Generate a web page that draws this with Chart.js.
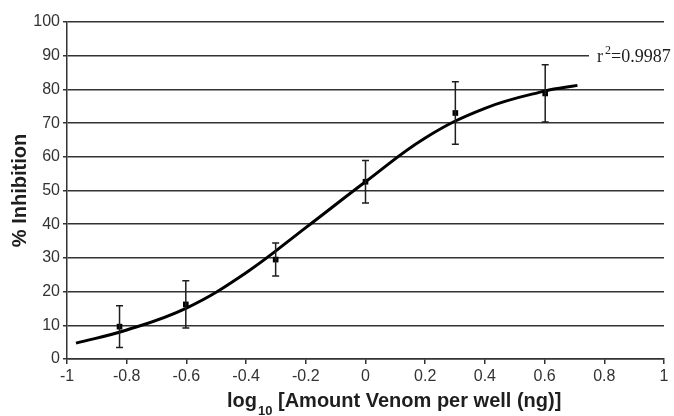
<!DOCTYPE html>
<html>
<head>
<meta charset="utf-8">
<script src="https://cdn.jsdelivr.net/npm/chart.js@4.4.1/dist/chart.umd.min.js"></script>
<style>
html,body{margin:0;padding:0;background:#fff;}
#wrap{width:674px;height:416px;position:relative;}
</style>
</head>
<body>
<div id="wrap"><canvas id="c" width="674" height="416"></canvas></div>
<script>
// Measured data points: log10 amount of venom (ng) vs % inhibition
const doseLog = [-0.824, -0.602, -0.301, 0, 0.301, 0.602];
const inhibition = [9.6, 16.2, 29.5, 52.6, 73.0, 78.8];
const errorSize = [6.2, 7.0, 4.9, 6.3, 9.3, 8.5];
// Fitted curve
const curveX = [-0.97, -0.8, -0.6, -0.4, -0.2, 0, 0.2, 0.4, 0.6, 0.71];
const curveY = [4.7, 8.6, 15.1, 25.6, 39.0, 52.6, 65.6, 74.4, 79.5, 81.2];
const rSquaredText = "0.9987";
const xTitleMain = "log";
const xTitleSub = "10";
const xTitleRest = " [Amount Venom per well (ng)]";
const yTitle = "% Inhibition";

const INK = '#1e1e1e';
const GRID = '#333333';

const errorBarPlugin = {
  id: 'errorBars',
  afterDatasetsDraw(chart) {
    const ctx = chart.ctx, xs = chart.scales.x, ys = chart.scales.y;
    ctx.save();
    ctx.strokeStyle = INK;
    ctx.lineWidth = 1.5;
    for (let i = 0; i < doseLog.length; i++) {
      const px = xs.getPixelForValue(doseLog[i]);
      const top = ys.getPixelForValue(inhibition[i] + errorSize[i]);
      const bot = ys.getPixelForValue(inhibition[i] - errorSize[i]);
      ctx.beginPath();
      ctx.moveTo(px, top); ctx.lineTo(px, bot);
      ctx.moveTo(px - 3.5, top); ctx.lineTo(px + 3.5, top);
      ctx.moveTo(px - 3.5, bot); ctx.lineTo(px + 3.5, bot);
      ctx.stroke();
    }
    ctx.restore();
  }
};

const textPlugin = {
  id: 'texts',
  afterDraw(chart) {
    const ctx = chart.ctx, ys = chart.scales.y, area = chart.chartArea;
    ctx.save();
    // r^2 label interrupting the 90 gridline
    const y90 = ys.getPixelForValue(90);
    ctx.fillStyle = '#fff';
    ctx.fillRect(589, y90 - 3, area.right - 589 + 3, 6);
    ctx.fillStyle = INK;
    ctx.textBaseline = 'alphabetic';
    ctx.textAlign = 'left';
    ctx.font = '18px "Liberation Serif", "Times New Roman", serif';
    let x = 597;
    ctx.fillText('r', x, 62);
    x += ctx.measureText('r').width + 2;
    ctx.font = '12px "Liberation Serif", "Times New Roman", serif';
    ctx.fillText('2', x, 54);
    x += ctx.measureText('2').width;
    ctx.font = '18px "Liberation Serif", "Times New Roman", serif';
    ctx.fillText('=' + rSquaredText, x, 62);

    // x axis title with subscript
    ctx.fillStyle = INK;
    ctx.font = 'bold 20px "Liberation Sans", Arial, sans-serif';
    x = 227;
    ctx.fillText(xTitleMain, x, 407);
    x += ctx.measureText(xTitleMain).width + 1;
    ctx.font = 'bold 13px "Liberation Sans", Arial, sans-serif';
    ctx.fillText(xTitleSub, x, 415);
    x += ctx.measureText(xTitleSub).width;
    ctx.font = 'bold 20px "Liberation Sans", Arial, sans-serif';
    ctx.fillText(xTitleRest, x, 407);

    // y axis title
    ctx.translate(20, (area.top + area.bottom) / 2);
    ctx.rotate(-Math.PI / 2);
    ctx.textAlign = 'center';
    ctx.textBaseline = 'middle';
    ctx.fillText(yTitle, 0, 0);
    ctx.restore();
  }
};

new Chart(document.getElementById('c'), {
  type: 'scatter',
  data: {
    datasets: [
      {
        type: 'line',
        data: curveX.map((v, i) => ({x: v, y: curveY[i]})),
        borderColor: '#000',
        borderWidth: 3,
        pointRadius: 0,
        fill: false,
        tension: 0.4,
        order: 2
      },
      {
        type: 'scatter',
        data: doseLog.map((v, i) => ({x: v, y: inhibition[i]})),
        pointStyle: 'rect',
        pointRadius: 4,
        backgroundColor: '#000',
        borderColor: '#000',
        borderWidth: 0,
        order: 1
      }
    ]
  },
  options: {
    responsive: false,
    animation: false,
    events: [],
    layout: {padding: {top: 22, right: 10, left: 0, bottom: 0}},
    plugins: {legend: {display: false}, tooltip: {enabled: false}},
    scales: {
      x: {
        type: 'linear', min: -1, max: 1,
        afterFit(s) { s.height = 57; },
        grid: {drawOnChartArea: false, drawTicks: true, tickLength: 5, color: GRID, lineWidth: 1.5},
        border: {display: true, color: GRID, width: 1.5},
        ticks: {
          stepSize: 0.2, padding: 3, color: '#333',
          font: {family: '"Liberation Sans", Arial, sans-serif', size: 16},
          callback: v => String(Math.round(v * 10) / 10)
        }
      },
      y: {
        type: 'linear', min: 0, max: 100,
        afterFit(s) { s.width = 67; },
        grid: {drawOnChartArea: true, drawTicks: true, tickLength: 4, color: GRID, lineWidth: 1.5},
        border: {display: true, color: GRID, width: 1.5},
        ticks: {
          stepSize: 10, padding: 3, color: '#333',
          font: {family: '"Liberation Sans", Arial, sans-serif', size: 16}
        }
      }
    }
  },
  plugins: [errorBarPlugin, textPlugin]
});
</script>
</body>
</html>
